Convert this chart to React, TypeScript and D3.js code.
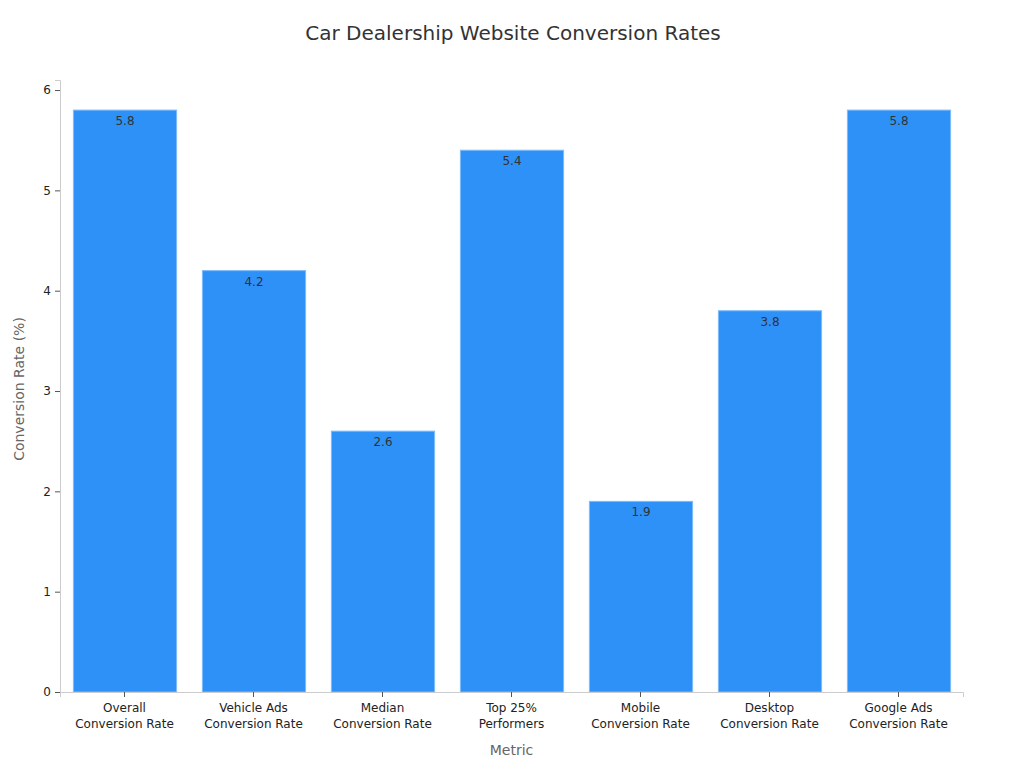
import React, { useEffect, useRef } from 'react';
import * as d3 from 'd3';

const metrics = [
  ['Overall', 'Conversion Rate'],
  ['Vehicle Ads', 'Conversion Rate'],
  ['Median', 'Conversion Rate'],
  ['Top 25%', 'Performers'],
  ['Mobile', 'Conversion Rate'],
  ['Desktop', 'Conversion Rate'],
  ['Google Ads', 'Conversion Rate'],
];
const rates = [5.8, 4.2, 2.6, 5.4, 1.9, 3.8, 5.8];
const yTicks = [0, 1, 2, 3, 4, 5, 6];

const width = 1024;
const height = 768;

const App: React.FC = () => {
  const svgRef = useRef<SVGSVGElement>(null);

  useEffect(() => {
    if (!svgRef.current) return;
    const svg = d3.select(svgRef.current);
    svg.selectAll('*').remove();

    const margin = { top: 80, right: 61, bottom: 76, left: 60 };
    const innerWidth = width - margin.left - margin.right;
    const innerHeight = height - margin.top - margin.bottom;
    const font = 'DejaVu Sans, sans-serif';

    const g = svg.append('g').attr('transform', `translate(${margin.left},${margin.top})`);

    const keys = metrics.map((_, i) => String(i));
    const x = d3.scaleBand().domain(keys).range([0, innerWidth]).paddingInner(0.2).paddingOuter(0.1);
    const y = d3.scaleLinear().domain([0, 6.1]).range([innerHeight, 0]);

    // bars
    g.selectAll('rect.bar')
      .data(rates)
      .enter()
      .append('rect')
      .attr('class', 'bar')
      .attr('x', (_, i) => x(String(i))! + 0.5)
      .attr('y', d => y(d))
      .attr('width', x.bandwidth())
      .attr('height', d => innerHeight - y(d))
      .attr('fill', '#2E91F8')
      .attr('stroke', '#7DBBFA')
      .attr('stroke-width', 1);

    // value labels
    g.selectAll('text.val')
      .data(rates)
      .enter()
      .append('text')
      .attr('class', 'val')
      .attr('x', (_, i) => x(String(i))! + x.bandwidth() / 2 + 0.5)
      .attr('y', d => y(d) + 15)
      .attr('text-anchor', 'middle')
      .style('font-family', font)
      .style('font-size', '12px')
      .style('fill', '#333')
      .text(d => d.toFixed(1));

    // y axis
    const yAxis = g.append('g').call(
      d3.axisLeft(y).tickValues(yTicks).tickFormat(d3.format('d')).tickSize(5).tickPadding(4)
    );
    yAxis.select('.domain').attr('stroke', '#ccc');
    yAxis.selectAll('.tick line').attr('stroke', '#555');
    yAxis.selectAll('.tick text').style('font-family', font).style('font-size', '12px').style('fill', '#222');

    // x axis
    const xAxis = g.append('g')
      .attr('transform', `translate(0,${innerHeight})`)
      .call(d3.axisBottom(x).tickSize(5).tickFormat(() => ''));
    xAxis.select('.domain').attr('stroke', '#ccc');
    xAxis.selectAll('.tick line').attr('stroke', '#555');
    xAxis.selectAll('.tick').each(function (_, i) {
      const t = d3.select(this).append('text')
        .attr('text-anchor', 'middle')
        .style('font-family', font)
        .style('font-size', '12px')
        .style('fill', '#222');
      metrics[i].forEach((line, j) => {
        t.append('tspan').attr('x', 0).attr('y', 20 + j * 16).text(line);
      });
    });

    // axis titles
    svg.append('text')
      .attr('x', margin.left + innerWidth / 2)
      .attr('y', 755)
      .attr('text-anchor', 'middle')
      .style('font-family', font)
      .style('font-size', '14px')
      .style('fill', '#666')
      .text('Metric');

    svg.append('text')
      .attr('transform', `translate(24,${margin.top + innerHeight / 2 + 3}) rotate(-90)`)
      .attr('text-anchor', 'middle')
      .style('font-family', font)
      .style('font-size', '14px')
      .style('fill', '#666')
      .text('Conversion Rate (%)');

    svg.append('text')
      .attr('x', width / 2 + 1)
      .attr('y', 40)
      .attr('text-anchor', 'middle')
      .style('font-family', font)
      .style('font-size', '20px')
      .style('fill', '#333')
      .text('Car Dealership Website Conversion Rates');
  }, []);

  return (
    <svg
      ref={svgRef}
      width={width}
      height={height}
      style={{ position: 'absolute', left: 0, top: 0, background: '#fff' }}
    />
  );
};

export default App;
